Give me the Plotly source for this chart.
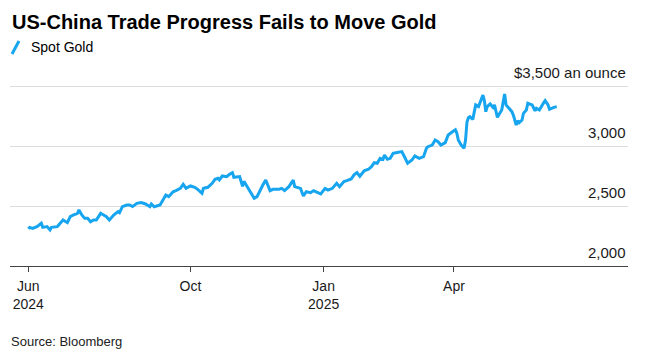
import plotly.graph_objects as go

# ---- data ----
dates = [
    "2024-06-11", "2024-06-12", "2024-06-14", "2024-06-17", "2024-06-20", "2024-06-21",
    "2024-06-24", "2024-06-26", "2024-06-27", "2024-07-01", "2024-07-02", "2024-07-05",
    "2024-07-08", "2024-07-10", "2024-07-12", "2024-07-15", "2024-07-16", "2024-07-18",
    "2024-07-20", "2024-07-22", "2024-07-24", "2024-07-26", "2024-07-28", "2024-07-31",
    "2024-08-02", "2024-08-04", "2024-08-06", "2024-08-09", "2024-08-12", "2024-08-13",
    "2024-08-15", "2024-08-18", "2024-08-20", "2024-08-22", "2024-08-25", "2024-08-28",
    "2024-08-31", "2024-09-03", "2024-09-04", "2024-09-06", "2024-09-10", "2024-09-12",
    "2024-09-14", "2024-09-16", "2024-09-19", "2024-09-21", "2024-09-24", "2024-09-26",
    "2024-09-28", "2024-10-01", "2024-10-04", "2024-10-06", "2024-10-09", "2024-10-10",
    "2024-10-13", "2024-10-16", "2024-10-18", "2024-10-20", "2024-10-21", "2024-10-23",
    "2024-10-26", "2024-10-28", "2024-10-30", "2024-10-31", "2024-11-03", "2024-11-04",
    "2024-11-06", "2024-11-07", "2024-11-08", "2024-11-11", "2024-11-14", "2024-11-16",
    "2024-11-18", "2024-11-20", "2024-11-22", "2024-11-25", "2024-11-27", "2024-12-01",
    "2024-12-03", "2024-12-05", "2024-12-08", "2024-12-11", "2024-12-12", "2024-12-16",
    "2024-12-18", "2024-12-20", "2024-12-23", "2024-12-25", "2024-12-28", "2024-12-30",
    "2025-01-02", "2025-01-04", "2025-01-07", "2025-01-10", "2025-01-12", "2025-01-15",
    "2025-01-17", "2025-01-20", "2025-01-22", "2025-01-24", "2025-01-26", "2025-01-29",
    "2025-02-01", "2025-02-03", "2025-02-05", "2025-02-07", "2025-02-09", "2025-02-11",
    "2025-02-12", "2025-02-14", "2025-02-16", "2025-02-18", "2025-02-20", "2025-02-24",
    "2025-02-26", "2025-02-28", "2025-03-03", "2025-03-05", "2025-03-08", "2025-03-11",
    "2025-03-13", "2025-03-14", "2025-03-17", "2025-03-19", "2025-03-21", "2025-03-23",
    "2025-03-26", "2025-03-28", "2025-03-31", "2025-04-02", "2025-04-03", "2025-04-04",
    "2025-04-06", "2025-04-08", "2025-04-09", "2025-04-10", "2025-04-11", "2025-04-12",
    "2025-04-14", "2025-04-16", "2025-04-18", "2025-04-20", "2025-04-21", "2025-04-22",
    "2025-04-23", "2025-04-24", "2025-04-26", "2025-04-28", "2025-04-29", "2025-05-01",
    "2025-05-04", "2025-05-06", "2025-05-07", "2025-05-09", "2025-05-11", "2025-05-12",
    "2025-05-13", "2025-05-14", "2025-05-15", "2025-05-16", "2025-05-18", "2025-05-19",
    "2025-05-21", "2025-05-22", "2025-05-25", "2025-05-27", "2025-05-28", "2025-05-30",
    "2025-06-02", "2025-06-03", "2025-06-05", "2025-06-06", "2025-06-09", "2025-06-11",
]

spot_gold = [
    2310, 2322, 2314, 2328, 2356, 2322,
    2328, 2300, 2322, 2328, 2342, 2383,
    2361, 2411, 2425, 2439, 2467, 2425,
    2397, 2397, 2369, 2383, 2383, 2439,
    2425, 2411, 2383, 2425, 2453, 2444,
    2494, 2508, 2508, 2495, 2522, 2528,
    2517, 2494, 2517, 2494, 2508, 2550,
    2592, 2578, 2619, 2628, 2647, 2681,
    2647, 2667, 2656, 2639, 2606, 2647,
    2656, 2689, 2722, 2731, 2717, 2750,
    2744, 2764, 2778, 2739, 2739, 2745,
    2665, 2705, 2685, 2620, 2564, 2578,
    2633, 2675, 2717, 2628, 2639, 2639,
    2647, 2628, 2661, 2717, 2661, 2647,
    2583, 2619, 2611, 2628, 2611, 2600,
    2647, 2633, 2647, 2689, 2661, 2703,
    2711, 2725, 2760, 2778, 2748, 2794,
    2806, 2828, 2861, 2856, 2897, 2889,
    2925, 2889, 2897, 2939, 2944, 2953,
    2906, 2856, 2883, 2917, 2897, 2911,
    2981, 2994, 3008, 3050, 3036, 3008,
    3028, 3092, 3119, 3135, 3106, 3050,
    3008, 2981, 3050, 3200, 3235, 3244,
    3222, 3342, 3328, 3389, 3425, 3378,
    3286, 3328, 3350, 3322, 3342, 3239,
    3300, 3433, 3342, 3314, 3286, 3258,
    3222, 3175, 3211, 3194, 3217, 3272,
    3300, 3356, 3342, 3294, 3314, 3300,
    3361, 3378, 3342, 3306, 3322, 3328,
]

x_tick_vals = ["2024-06-11", "2024-10-01", "2025-01-01", "2025-04-01"]
x_tick_text = ["Jun<br>2024", "Oct", "Jan<br>2025", "Apr"]
y_tick_vals = [2000, 2500, 3000, 3500]
y_tick_text = ["2,000", "2,500", "3,000", "$3,500 an ounce"]

title_text = "US-China Trade Progress Fails to Move Gold"
series_name = "Spot Gold"
source_text = "Source: Bloomberg"

# ---- styling ----
LINE_COLOR = "#17a5ef"
FONT = "Liberation Sans, Arial, sans-serif"
W, H = 646, 362
L, R, T, B = 10, 18, 80, 96
PW, PH = W - L - R, H - T - B
Y_MIN, Y_MAX = 2000, 3550  # 0.12 px per dollar -> 3,500 line at y=86


def px_to_paper(px, py):
    return (px - L) / PW, (H - B - py) / PH


fig = go.Figure()
fig.add_trace(go.Scatter(
    x=dates, y=spot_gold, mode="lines", name=series_name,
    line=dict(color=LINE_COLOR, width=3), showlegend=False,
    hoverinfo="skip",
))

annotations = []
# y tick labels above gridlines, right aligned
for v, t in zip(y_tick_vals, y_tick_text):
    annotations.append(dict(
        x=1, xref="paper", y=v, yref="y", text=t, showarrow=False,
        xanchor="right", yanchor="middle", yshift=14,
        font=dict(family=FONT, size=15, color="#1a1a1a"),
    ))

tx, ty = px_to_paper(10, 22)
annotations.append(dict(
    x=tx, y=ty, xref="paper", yref="paper", text="<b>" + title_text + "</b>",
    showarrow=False, xanchor="left", yanchor="middle",
    font=dict(family=FONT, size=20, color="#000000"),
))
lx, ly = px_to_paper(29, 47)
annotations.append(dict(
    x=lx, y=ly, xref="paper", yref="paper", text=series_name,
    showarrow=False, xanchor="left", yanchor="middle",
    font=dict(family=FONT, size=14, color="#000000"),
))
sx, sy = px_to_paper(9, 341)
annotations.append(dict(
    x=sx, y=sy, xref="paper", yref="paper", text=source_text,
    showarrow=False, xanchor="left", yanchor="middle",
    font=dict(family=FONT, size=13, color="#222222"),
))

ix0, iy0 = px_to_paper(12, 54)
ix1, iy1 = px_to_paper(19, 41)
shapes = [dict(
    type="line", xref="paper", yref="paper", x0=ix0, y0=iy0, x1=ix1, y1=iy1,
    line=dict(color=LINE_COLOR, width=3),
)]

fig.update_layout(
    width=W, height=H,
    margin=dict(l=L, r=R, t=T, b=B, pad=0),
    paper_bgcolor="white", plot_bgcolor="white",
    annotations=annotations, shapes=shapes,
    showlegend=False,
    xaxis=dict(
        type="date",
        range=["2024-05-29 09:00", "2025-07-30 05:00"],
        tickvals=x_tick_vals, ticktext=x_tick_text,
        ticks="outside", ticklen=5, tickwidth=1, tickcolor="#444444",
        showline=True, linecolor="#444444", linewidth=1,
        showgrid=False, zeroline=False,
        tickfont=dict(family=FONT, size=14, color="#1a1a1a"),
        ticklabelstandoff=2,
        fixedrange=True,
    ),
    yaxis=dict(
        range=[Y_MIN, Y_MAX],
        tickvals=y_tick_vals, showticklabels=False,
        showgrid=True, gridcolor="#dddddd", gridwidth=1,
        zeroline=False, showline=False, ticks="",
        fixedrange=True,
    ),
)

fig.write_html(
    "out.html",
    config={"displayModeBar": False},
    post_script="document.body.style.margin='0';document.body.style.padding='0';",
)
